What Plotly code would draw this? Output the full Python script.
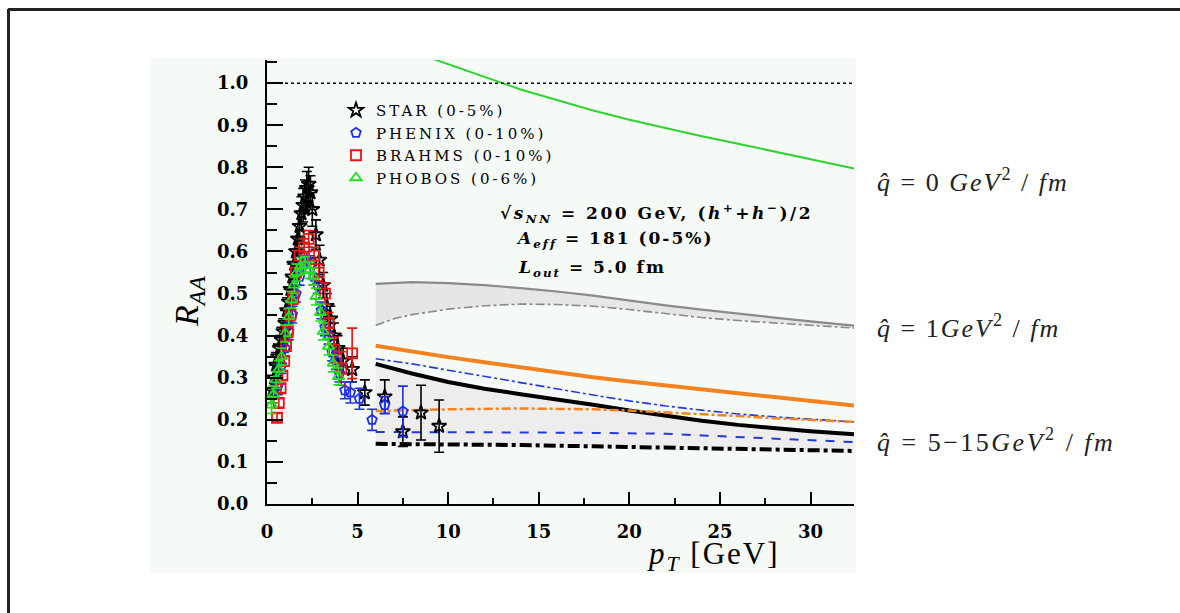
import plotly.graph_objects as go

# ---------------- data ----------------
# STAR (0-5%)
star_x = [0.3, 0.4, 0.5, 0.6, 0.7, 0.8, 0.9, 1.0, 1.1, 1.2, 1.3, 1.4, 1.5, 1.6, 1.7, 1.8, 1.9, 2.0,
          2.1, 2.2, 2.3, 2.4, 2.5, 2.7, 2.9, 3.1, 3.3, 3.5, 3.7, 3.9, 4.2, 4.7, 5.4, 6.5, 7.5, 8.5, 9.5]
star_y = [0.27, 0.30, 0.33, 0.35, 0.37, 0.39, 0.41, 0.43, 0.46, 0.48, 0.51, 0.54, 0.57, 0.60, 0.63, 0.66,
          0.69, 0.71, 0.73, 0.75, 0.76, 0.74, 0.70, 0.64, 0.58, 0.52, 0.47, 0.44, 0.40, 0.37, 0.34, 0.32,
          0.265, 0.255, 0.172, 0.217, 0.185]
star_e = [0.03, 0.03, 0.03, 0.03, 0.03, 0.03, 0.03, 0.03, 0.03, 0.03, 0.03, 0.03, 0.035, 0.035, 0.035,
          0.035, 0.04, 0.04, 0.04, 0.04, 0.04, 0.04, 0.04, 0.035, 0.035, 0.03, 0.03, 0.03, 0.03, 0.03,
          0.03, 0.03, 0.03, 0.04, 0.035, 0.065, 0.062]

# PHENIX (0-10%)
phenix_x = [0.6, 0.8, 1.0, 1.2, 1.4, 1.6, 1.8, 2.0, 2.2, 2.4, 2.6, 2.8, 3.0, 3.2, 3.4, 3.6, 3.8, 4.0,
            4.3, 4.6, 5.1, 5.8, 6.5, 7.5]
phenix_y = [0.28, 0.33, 0.37, 0.41, 0.45, 0.50, 0.54, 0.57, 0.58, 0.57, 0.54, 0.52, 0.46, 0.42, 0.40,
            0.36, 0.34, 0.31, 0.27, 0.265, 0.25, 0.20, 0.235, 0.22]
phenix_e = [0.02] * 18 + [0.02, 0.025, 0.025, 0.025, 0.02, 0.06]

# BRAHMS (0-10%)
brahms_x = [0.55, 0.65, 0.75, 0.85, 0.95, 1.05, 1.15, 1.3, 1.45, 1.6, 1.8, 2.05, 2.3, 2.6, 2.85, 3.2,
            3.4, 3.7, 4.1, 4.7]
brahms_y = [0.205, 0.24, 0.275, 0.305, 0.34, 0.375, 0.41, 0.45, 0.49, 0.55, 0.59, 0.61, 0.63, 0.59,
            0.55, 0.50, 0.43, 0.366, 0.322, 0.358]
brahms_e = [0.01, 0.01, 0.01, 0.01, 0.012, 0.012, 0.015, 0.015, 0.015, 0.02, 0.02, 0.02, 0.02, 0.02,
            0.02, 0.025, 0.025, 0.03, 0.04, 0.06]

# PHOBOS (0-6%)
phobos_x = [0.25, 0.35, 0.5, 0.65, 0.8, 1.0, 1.2, 1.35, 1.5, 1.65, 1.85, 2.1, 2.35, 2.55, 2.7, 2.95,
            3.1, 3.4, 3.65, 3.95]
phobos_y = [0.235, 0.26, 0.295, 0.32, 0.35, 0.405, 0.445, 0.485, 0.52, 0.55, 0.565, 0.568, 0.556,
            0.54, 0.493, 0.455, 0.41, 0.374, 0.334, 0.303]
phobos_e = [0.02] * 20

# theory curves
q0_x = [9.0, 10, 12, 14, 16, 18, 20, 22, 24, 26, 28, 30, 32.4]
q0_y = [1.06, 1.045, 1.015, 0.985, 0.96, 0.935, 0.913, 0.893, 0.874, 0.856, 0.838, 0.82, 0.797]

q1_up_x = [6, 8, 10, 12, 14, 16, 18, 20, 22, 24, 26, 28, 30, 32.4]
q1_up_y = [0.523, 0.527, 0.525, 0.52, 0.513, 0.505, 0.495, 0.483, 0.472, 0.462, 0.452, 0.443, 0.434, 0.424]
q1_lo_x = [6, 7, 8, 10, 12, 14, 16, 18, 20, 22, 24, 26, 28, 30, 32.4]
q1_lo_y = [0.425, 0.44, 0.45, 0.463, 0.471, 0.475, 0.474, 0.47, 0.462, 0.452, 0.443, 0.436, 0.43, 0.424, 0.418]

orange_x = [6, 8, 10, 12, 14, 16, 18, 20, 22, 24, 26, 28, 30, 32.4]
orange_y = [0.376, 0.362, 0.349, 0.337, 0.325, 0.312, 0.301, 0.291, 0.281, 0.272, 0.263, 0.254, 0.245, 0.234]

bluedot_x = [6, 8, 10, 12, 14, 16, 18, 20, 22, 24, 26, 28, 30, 32.4]
bluedot_y = [0.345, 0.333, 0.318, 0.303, 0.289, 0.274, 0.259, 0.245, 0.233, 0.223, 0.214, 0.207, 0.201, 0.195]

black_x = [6, 8, 10, 12, 14, 16, 18, 20, 22, 24, 26, 28, 30, 32.4]
black_y = [0.333, 0.31, 0.29, 0.274, 0.261, 0.249, 0.236, 0.222, 0.209, 0.198, 0.188, 0.18, 0.173, 0.166]

orangedd_x = [6, 10, 14, 18, 20, 22, 24, 26, 28, 30, 32.4]
orangedd_y = [0.221, 0.225, 0.227, 0.225, 0.222, 0.218, 0.213, 0.209, 0.204, 0.2, 0.195]

bluedash_x = [6, 10, 14, 18, 22, 24, 26, 28, 30, 32.4]
bluedash_y = [0.171, 0.171, 0.17, 0.169, 0.167, 0.163, 0.159, 0.155, 0.151, 0.147]

blackdd_x = [6, 10, 14, 18, 22, 26, 30, 32.4]
blackdd_y = [0.143, 0.142, 0.14, 0.137, 0.134, 0.131, 0.128, 0.126]

x_ticks = [0, 5, 10, 15, 20, 25, 30]
y_ticks = [0.0, 0.1, 0.2, 0.3, 0.4, 0.5, 0.6, 0.7, 0.8, 0.9, 1.0]
X_RANGE = [0, 32.4]
Y_RANGE = [0, 1.055]
REF_Y = 1.0

# ---------------- figure ----------------
W, H = 1180, 613
ML, MR, MT, MB = 267, 326, 60, 109
PW, PH = W - ML - MR, H - MT - MB


def px_x(p):
    return (p - ML) / PW


def px_y(p):
    return (H - MB - p) / PH


SP = '<span style="letter-spacing:%spx">%s</span>'

fig = go.Figure()

GRAY = "#8a8a8a"
ORANGE = "#f58220"
BLUE = "#2438e0"

# q=1 band
fig.add_trace(go.Scatter(x=q1_up_x + q1_lo_x[::-1], y=q1_up_y + q1_lo_y[::-1], fill="toself",
                         fillcolor="#e6e6e6", line=dict(width=0), mode="lines",
                         hoverinfo="skip", showlegend=False))
# q=5-15 band
fig.add_trace(go.Scatter(x=black_x + blackdd_x[::-1], y=black_y + blackdd_y[::-1], fill="toself",
                         fillcolor="#ededed", line=dict(width=0), mode="lines",
                         hoverinfo="skip", showlegend=False))


def line(x, y, color, width, dash="solid"):
    fig.add_trace(go.Scatter(x=x, y=y, mode="lines", line=dict(color=color, width=width, dash=dash),
                             showlegend=False, hoverinfo="skip"))


line(q0_x, q0_y, "#2ed42e", 2)
line(q1_up_x, q1_up_y, GRAY, 2.2)
line(q1_lo_x, q1_lo_y, GRAY, 1.6, "dashdot")
line(orange_x, orange_y, ORANGE, 4)
line(bluedot_x, bluedot_y, BLUE, 1.6, "dashdot")
line(black_x, black_y, "black", 4)
line(orangedd_x, orangedd_y, ORANGE, 2.5, "dashdot")
line(bluedash_x, bluedash_y, BLUE, 2, "dash")
line(blackdd_x, blackdd_y, "black", 4, "dashdot")


def data(name, x, y, e, color, symbol, size):
    fig.add_trace(go.Scatter(
        x=x, y=y, mode="markers", name=SP % (3, name),
        marker=dict(symbol=symbol, size=size, color=color, line=dict(color=color, width=1.8)),
        error_y=dict(type="data", array=e, visible=True, color=color, thickness=1.6, width=5),
    ))


data("STAR (0-5%)", star_x, star_y, star_e, "black", "star-open", 11)
data("PHENIX (0-10%)", phenix_x, phenix_y, phenix_e, "#1f2fe8", "pentagon-open", 10)
data("BRAHMS (0-10%)", brahms_x, brahms_y, brahms_e, "#f01010", "square-open", 10)
data("PHOBOS (0-6%)", phobos_x, phobos_y, phobos_e, "#22dd22", "triangle-up-open", 10)

shapes = [
    # light plot background
    dict(type="rect", xref="paper", yref="paper", x0=px_x(150), x1=px_x(856), y0=px_y(573), y1=px_y(58),
         fillcolor="#f6faf6", line=dict(width=0), layer="below"),
    # reference line at 1.0
    dict(type="line", xref="paper", yref="y", x0=0, x1=1, y0=REF_Y, y1=REF_Y,
         line=dict(color="black", width=1.5, dash="dot")),
    # outer frame (top & left)
    dict(type="line", xref="paper", yref="paper", x0=px_x(8), x1=px_x(1180), y0=px_y(9.5), y1=px_y(9.5),
         line=dict(color="#222", width=3)),
    dict(type="line", xref="paper", yref="paper", x0=px_x(8.5), x1=px_x(8.5), y0=px_y(9), y1=px_y(613),
         line=dict(color="#222", width=3)),
]

ann_font = dict(family="DejaVu Serif", size=17, color="black", weight="bold")
q_font = dict(family="Liberation Serif", size=26, color="#222")

annotations = [
    dict(xref="paper", yref="paper", x=px_x(498), y=px_y(213), xanchor="left", yanchor="middle",
         text=SP % (2.5, "√<i>s</i><sub><i>NN</i></sub> = 200 GeV, (<i>h</i><sup>+</sup>+<i>h</i><sup>−</sup>)/2"),
         showarrow=False, font=ann_font),
    dict(xref="paper", yref="paper", x=px_x(514), y=px_y(240), xanchor="left", yanchor="middle",
         text=SP % (2, "<i>A</i><sub><i>eff</i></sub> = 181 (0-5%)"), showarrow=False, font=ann_font),
    dict(xref="paper", yref="paper", x=px_x(516), y=px_y(268), xanchor="left", yanchor="middle",
         text=SP % (2, "<i>L</i><sub><i>out</i></sub> = 5.0 fm"), showarrow=False, font=ann_font),
    dict(xref="paper", yref="paper", x=px_x(875), y=px_y(180), xanchor="left", yanchor="middle",
         text=SP % (2, "<i>q̂</i> = 0 <i>GeV</i><sup>2</sup> / <i>fm</i>"), showarrow=False, font=q_font),
    dict(xref="paper", yref="paper", x=px_x(875), y=px_y(326), xanchor="left", yanchor="middle",
         text=SP % (2, "<i>q̂</i> = 1<i>GeV</i><sup>2</sup> / <i>fm</i>"), showarrow=False, font=q_font),
    dict(xref="paper", yref="paper", x=px_x(875), y=px_y(440), xanchor="left", yanchor="middle",
         text=SP % (2.5, "<i>q̂</i> = 5−15<i>GeV</i><sup>2</sup> / <i>fm</i>"), showarrow=False, font=q_font),
    # axis titles
    dict(xref="paper", yref="paper", x=px_x(189), y=px_y(302), xanchor="center", yanchor="middle",
         text="<i>R</i><sub><i>AA</i></sub>", textangle=-90, showarrow=False,
         font=dict(family="Liberation Serif", size=34, color="black")),
    dict(xref="paper", yref="paper", x=px_x(713), y=px_y(556), xanchor="center", yanchor="middle",
         text=SP % (2, "<i>p</i><sub><i>T</i></sub> [GeV]"), showarrow=False,
         font=dict(family="Liberation Serif", size=31, color="black")),
]

tick_font = dict(family="DejaVu Serif", size=18, color="black", weight="bold")

fig.update_layout(
    width=W, height=H,
    margin=dict(l=ML, r=MR, t=MT, b=MB, pad=0),
    paper_bgcolor="white", plot_bgcolor="rgba(0,0,0,0)",
    shapes=shapes, annotations=annotations,
    legend=dict(x=px_x(336), y=px_y(94), xanchor="left", yanchor="top",
                bgcolor="rgba(0,0,0,0)", font=dict(family="DejaVu Serif", size=15, color="black"),
                tracegroupgap=0, itemwidth=30),
    xaxis=dict(range=X_RANGE, tickvals=x_ticks, showgrid=False, zeroline=False,
               showline=True, linecolor="black", linewidth=2, ticks="inside", ticklen=12,
               tickwidth=2, tickcolor="black", tickfont=tick_font, ticklabelstandoff=10,
               minor=dict(dtick=2.5, ticks="inside", ticklen=6, tickwidth=1.5, tickcolor="black",
                          showgrid=False)),
    yaxis=dict(range=Y_RANGE, tickvals=y_ticks, tickformat=".1f", showgrid=False, zeroline=False,
               showline=True, linecolor="black", linewidth=2, ticks="inside", ticklen=16,
               tickwidth=2, tickcolor="black", tickfont=tick_font, ticklabelstandoff=13,
               minor=dict(dtick=0.05, ticks="inside", ticklen=10, tickwidth=1.5, tickcolor="black",
                          showgrid=False)),
)

fig.write_html("out.html", config={"displayModeBar": False},
               post_script="document.body.style.margin='0';document.body.style.overflow='hidden';")
